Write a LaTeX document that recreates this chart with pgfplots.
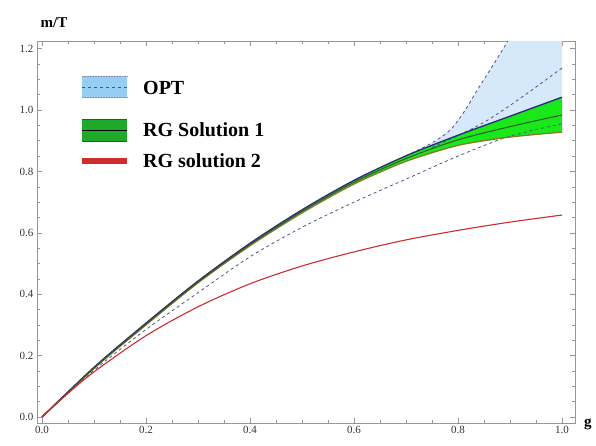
\documentclass[border=0pt]{standalone}
\usepackage{fontspec}
\setmainfont{Liberation Serif}
\usepackage{pgfplots}
\pgfplotsset{compat=1.18}
\usepgfplotslibrary{fillbetween}
\definecolor{optfill}{RGB}{214,233,250}
\definecolor{optleg}{RGB}{150,205,242}
\definecolor{dashc}{RGB}{75,85,140}
\definecolor{rggreen}{RGB}{25,232,25}
\definecolor{rgleg}{RGB}{30,170,40}
\definecolor{rgtop}{RGB}{45,40,120}
\definecolor{rgmid}{RGB}{55,85,45}
\definecolor{rglow}{RGB}{130,125,45}
\definecolor{rgred}{RGB}{205,45,45}
\definecolor{framec}{RGB}{150,150,150}
\begin{document}
\begin{tikzpicture}
\begin{axis}[at={(0,0)}, anchor=south west, scale only axis,
  width=538pt, height=382pt,
  xmin=-0.0096, xmax=1.025, ymin=-0.0195, ymax=1.225,
  axis line style={framec, line width=0.8pt},
  xtick={0,0.2,0.4,0.6,0.8,1.0}, ytick={0,0.2,0.4,0.6,0.8,1.0,1.2},
  minor tick num=3, tick align=inside,
  major tick length=5pt, minor tick length=3pt,
  tick style={framec, line width=0.6pt},
  /pgf/number format/assume math mode=true,
  every tick label/.append style={font=\fontsize{11}{13}\selectfont, text=black!80},
  xticklabel style={/pgf/number format/.cd, fixed, fixed zerofill, precision=1},
  yticklabel style={/pgf/number format/.cd, fixed, fixed zerofill, precision=1},
  clip=true,
]
% OPT band
\addplot[draw=none, name path=optup, forget plot] coordinates {
 (0.7,0.851) (0.75,0.893) (0.785,0.935) (0.81,0.99) (0.837,1.065) (0.865,1.14) (0.894,1.22) (0.92,1.30) (1.0,1.5)};
\addplot[draw=none, name path=optlow, forget plot] coordinates {
 (0.7,0.851) (0.8,0.910) (0.9,0.950) (1.0,0.970)};
\addplot[optfill, forget plot] fill between[of=optup and optlow];
% OPT dashed lines
\addplot[dashc, dashed, line width=0.8pt, smooth, forget plot] coordinates {
 (0,0) (0.1,0.152) (0.2,0.285) (0.3,0.405) (0.4,0.522) (0.5,0.618) (0.6,0.700) (0.7,0.775) (0.8,0.850) (0.9,0.915) (1.0,0.955)};
\addplot[dashc, dashed, line width=0.8pt, smooth, forget plot] coordinates {
 (0.7,0.851) (0.75,0.893) (0.785,0.935) (0.81,0.99) (0.837,1.065) (0.865,1.14) (0.894,1.22) (0.92,1.30)};
\addplot[dashc, dashed, line width=0.8pt, smooth, forget plot] coordinates {
 (0.75,0.878) (0.8,0.917) (0.85,0.96) (0.9,1.015) (0.95,1.075) (1.0,1.137)};
% RG solution 1 band
\addplot[draw=none, name path=rgup, forget plot] coordinates {
 (0,0) (0.1,0.162) (0.2,0.306) (0.3,0.443) (0.4,0.566) (0.5,0.675) (0.6,0.771) (0.7,0.851) (0.8,0.918) (0.9,0.980) (1.0,1.042)};
\addplot[draw=none, name path=rglow, forget plot] coordinates {
 (0,0) (0.1,0.158) (0.2,0.300) (0.3,0.437) (0.4,0.558) (0.5,0.665) (0.6,0.759) (0.7,0.833) (0.8,0.885) (0.9,0.912) (1.0,0.928)};
\addplot[rggreen, forget plot] fill between[of=rgup and rglow];
\addplot[rglow, line width=1.3pt, smooth, forget plot] coordinates {
 (0,0) (0.1,0.158) (0.2,0.300) (0.3,0.437) (0.4,0.558) (0.5,0.665) (0.6,0.759) (0.7,0.833) (0.8,0.885) (0.9,0.912) (1.0,0.928)};
\addplot[rgtop, line width=1.3pt, smooth, forget plot] coordinates {
 (0,0) (0.1,0.162) (0.2,0.306) (0.3,0.443) (0.4,0.566) (0.5,0.675) (0.6,0.771) (0.7,0.851) (0.8,0.918) (0.9,0.980) (1.0,1.042)};
\addplot[rgmid, line width=1.0pt, smooth, forget plot] coordinates {
 (0,0) (0.1,0.160) (0.2,0.303) (0.3,0.440) (0.4,0.562) (0.5,0.670) (0.6,0.765) (0.7,0.842) (0.8,0.903) (0.9,0.946) (1.0,0.984)};
% RG solution 2
\addplot[rgred, line width=1.1pt, smooth, forget plot] coordinates {
 (0,0) (0.05,0.077) (0.1,0.147) (0.2,0.265) (0.3,0.359) (0.4,0.434) (0.5,0.492) (0.6,0.538) (0.7,0.577) (0.8,0.608) (0.9,0.635) (1.0,0.658)};
\end{axis}
% legend
\fill[optleg] (45pt,325pt) rectangle (90pt,347pt);
\draw[dashc, dashed, line width=0.7pt] (45pt,336pt) -- (90pt,336pt);
\draw[dashc!70, densely dotted, line width=0.6pt] (45pt,325.5pt) -- (90pt,325.5pt);
\draw[dashc!70, densely dotted, line width=0.6pt] (45pt,346.5pt) -- (90pt,346.5pt);
\fill[rgleg] (45pt,281pt) rectangle (90pt,304pt);
\draw[rgmid, line width=0.8pt] (45pt,281.5pt) -- (90pt,281.5pt);
\draw[rgmid, line width=0.8pt] (45pt,303.5pt) -- (90pt,303.5pt);
\draw[black, line width=1.4pt] (45pt,292.5pt) -- (90pt,292.5pt);
\fill[rgred] (45pt,259pt) rectangle (90pt,265pt);
\node[anchor=west, font=\fontsize{20}{24}\selectfont\bfseries, inner sep=0pt] at (106pt,335pt) {OPT};
\node[anchor=west, font=\fontsize{20}{24}\selectfont\bfseries, inner sep=0pt] at (106pt,293pt) {RG Solution 1};
\node[anchor=west, font=\fontsize{20}{24}\selectfont\bfseries, inner sep=0pt] at (106pt,262pt) {RG solution 2};
% axis labels
\node[font=\fontsize{15}{18}\selectfont\bfseries, inner sep=0pt] at (17pt,400pt) {m/T};
\node[anchor=west, font=\fontsize{15}{18}\selectfont\bfseries, inner sep=0pt] at (547pt,-1pt) {g};
\pgfresetboundingbox
\useasboundingbox (-37pt,-22pt) rectangle (559pt,423pt);
\end{tikzpicture}
\end{document}
